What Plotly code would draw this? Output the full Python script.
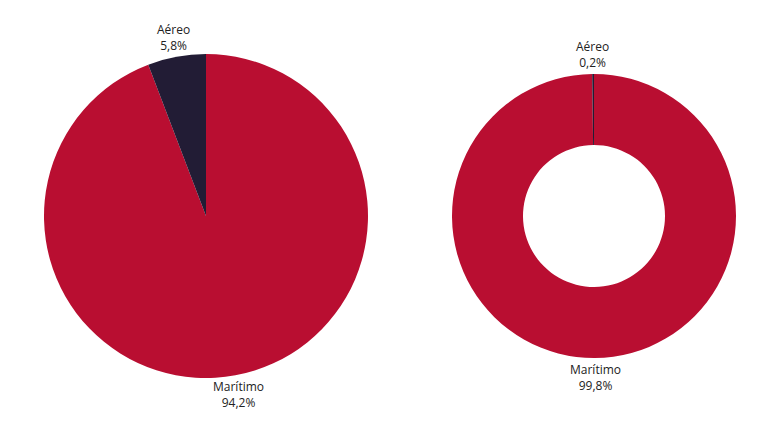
import math
import plotly.graph_objects as go

labels = ["Marítimo", "Aéreo"]
left_values = [94.2, 5.8]
right_values = [99.8, 0.2]
colors = ["#B90E31", "#221C35"]

W, H = 780, 433
left_domain = dict(x=[0.04615, 0.46154], y=[0.1455, 0.8938])
right_domain = dict(x=[0.56923, 0.93333], y=[0.19169, 0.84757])

fig = go.Figure()
for values, domain, hole in [(left_values, left_domain, 0), (right_values, right_domain, 0.5)]:
    fig.add_trace(go.Pie(
        labels=labels, values=values, sort=False, direction="clockwise",
        rotation=0, hole=hole, marker=dict(colors=colors, line=dict(width=0)),
        textinfo="none", domain=domain, showlegend=False,
        hoverinfo="label+percent"
    ))


def label_annotations(values, domain):
    wpx = (domain["x"][1] - domain["x"][0]) * W
    hpx = (domain["y"][1] - domain["y"][0]) * H
    r = min(wpx, hpx) / 2
    cx = (domain["x"][0] + domain["x"][1]) / 2 * W
    cy = (1 - (domain["y"][0] + domain["y"][1]) / 2) * H
    total = sum(values)
    start = 0.0
    anns = []
    for lab, v in zip(labels, values):
        mid = (start + v / 2) / total * 2 * math.pi
        start += v
        d = r + 20
        px = cx + d * math.sin(mid)
        py = cy - d * math.cos(mid)
        txt = f"{lab}<br>{v:.1f}%".replace(".", ",")
        anns.append(dict(
            x=px / W, y=1 - py / H, xref="paper", yref="paper",
            text=txt, showarrow=False, xanchor="center", yanchor="middle",
            font=dict(family="Open Sans", size=12, color="#222222"), align="center"
        ))
    return anns


annotations = label_annotations(left_values, left_domain) + label_annotations(right_values, right_domain)

fig.update_layout(
    width=W, height=H, margin=dict(l=0, r=0, t=0, b=0),
    paper_bgcolor="white", plot_bgcolor="white", separators=", ",
    font=dict(family="Open Sans", color="#222222"),
    annotations=annotations
)
fig.write_html("out.html")
